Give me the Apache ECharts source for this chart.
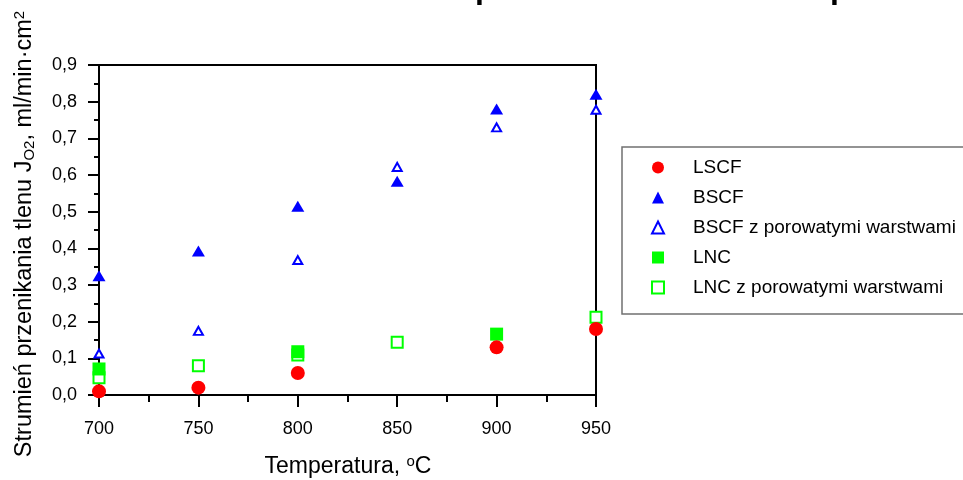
<!DOCTYPE html>
<html>
<head>
<meta charset="utf-8">
<script src="https://cdn.jsdelivr.net/npm/echarts@6/dist/echarts.min.js"></script>
<style>
html,body{margin:0;padding:0;background:#fff;}
#chart{width:963px;height:480px;}
</style>
</head>
<body>
<div id="chart"></div>
<script>
// ---- data ----
const seriesNames = ['LSCF', 'BSCF', 'BSCF z porowatymi warstwami', 'LNC', 'LNC z porowatymi warstwami'];
const tempLSCF = [700, 750, 800, 900, 950];
const valLSCF = [0.01, 0.02, 0.06, 0.13, 0.18];
const tempBSCF = [700, 750, 800, 850, 900, 950];
const valBSCF = [0.325, 0.393, 0.515, 0.583, 0.78, 0.82];
const tempBSCFp = [700, 750, 800, 850, 900, 950];
const valBSCFp = [0.113, 0.175, 0.368, 0.622, 0.73, 0.778];
const tempLNC = [700, 800, 900];
const valLNC = [0.071, 0.118, 0.166];
const tempLNCp = [700, 750, 800, 850, 950];
const valLNCp = [0.047, 0.08, 0.109, 0.144, 0.212];
const xTicks = [700, 750, 800, 850, 900, 950];
const yTicks = [0, 0.1, 0.2, 0.3, 0.4, 0.5, 0.6, 0.7, 0.8, 0.9];

const pairs = (xs, ys) => xs.map((x, i) => [x, ys[i]]);
const FONT = 'Liberation Sans, Arial, sans-serif';

const chart = echarts.init(document.getElementById('chart'), null, {renderer: 'canvas'});
const axisCommon = {
  axisLine: {show: true, lineStyle: {color: '#000', width: 2}},
  splitLine: {show: false},
  axisLabel: {color: '#000', fontFamily: FONT, fontSize: 18},
};
chart.setOption({
  animation: false,
  backgroundColor: '#fff',
  grid: {left: 99, right: 367, top: 65, bottom: 85, show: true, borderColor: '#000', borderWidth: 2, containLabel: false},
  xAxis: Object.assign({}, axisCommon, {
    type: 'value', min: xTicks[0], max: xTicks[xTicks.length - 1], interval: 50,
    axisTick: {show: true, inside: false, length: 12, lineStyle: {color: '#000', width: 2}},
    minorTick: {show: true, splitNumber: 2, length: 7, lineStyle: {color: '#000', width: 2}},
    axisLabel: Object.assign({}, axisCommon.axisLabel, {margin: 25}),
  }),
  yAxis: Object.assign({}, axisCommon, {
    type: 'value', min: yTicks[0], max: yTicks[yTicks.length - 1], interval: 0.1,
    axisTick: {show: true, inside: false, length: 11, lineStyle: {color: '#000', width: 2}},
    minorTick: {show: true, splitNumber: 2, length: 5, lineStyle: {color: '#000', width: 2}},
    axisLabel: Object.assign({}, axisCommon.axisLabel, {margin: 22, formatter: v => v.toFixed(1).replace('.', ',')}),
  }),
  legend: {
    data: seriesNames,
    orient: 'vertical', left: 651, top: 158, padding: 0,
    itemWidth: 12, itemHeight: 12, itemGap: 11,
    selectedMode: false,
    textStyle: {color: '#000', fontFamily: FONT, fontSize: 19, padding: [0, 0, 0, 24]},
  },
  graphic: [
    {type: 'rect', shape: {x: 622, y: 147, width: 360, height: 167}, style: {fill: 'none', stroke: '#707070', lineWidth: 1.5}, silent: true},
    {type: 'text', x: 348, y: 467, style: {
      text: 'Temperatura, {s|o}C', align: 'center', verticalAlign: 'middle',
      font: '23px ' + FONT, fill: '#000',
      rich: {s: {fontSize: 15, fontFamily: FONT, padding: [0, 0, 10, 0]}}
    }},
    {type: 'text', x: 25, y: 234, rotation: Math.PI / 2, style: {
      text: 'Strumień przenikania tlenu J{sub|O2}, ml/min·cm{sup|2}', align: 'center', verticalAlign: 'middle',
      font: '23.5px ' + FONT, fill: '#000',
      rich: {
        sub: {fontSize: 15, fontFamily: FONT, padding: [10, 0, 0, 0]},
        sup: {fontSize: 15, fontFamily: FONT, padding: [0, 0, 10, 0]}
      }
    }},
    {type: 'text', x: 475, y: -11, style: {text: 'p', font: 'bold 32px ' + FONT, fill: '#000', verticalAlign: 'middle'}},
    {type: 'text', x: 830, y: -11, style: {text: 'p', font: 'bold 32px ' + FONT, fill: '#000', verticalAlign: 'middle'}},
  ],
  series: [
    {name: seriesNames[0], type: 'scatter', z: 5, symbol: 'circle', symbolSize: 14,
     itemStyle: {color: '#ff0000', opacity: 1}, data: pairs(tempLSCF, valLSCF)},
    {name: seriesNames[1], type: 'scatter', z: 3, symbol: 'triangle', symbolSize: [13, 11],
     itemStyle: {color: '#0000ff', opacity: 1}, data: pairs(tempBSCF, valBSCF)},
    {name: seriesNames[2], type: 'scatter', z: 3, symbol: 'triangle', symbolSize: [9, 8],
     itemStyle: {color: '#ffffff', borderColor: '#0000ff', borderWidth: 2, opacity: 1}, data: pairs(tempBSCFp, valBSCFp)},
    {name: seriesNames[3], type: 'scatter', z: 4, symbol: 'rect', symbolSize: 13,
     itemStyle: {color: '#00ff00', opacity: 1}, data: pairs(tempLNC, valLNC)},
    {name: seriesNames[4], type: 'scatter', z: 3, symbol: 'rect', symbolSize: 11,
     itemStyle: {color: '#ffffff', borderColor: '#00ff00', borderWidth: 2, opacity: 1}, data: pairs(tempLNCp, valLNCp)},
  ]
});
</script>
</body>
</html>
